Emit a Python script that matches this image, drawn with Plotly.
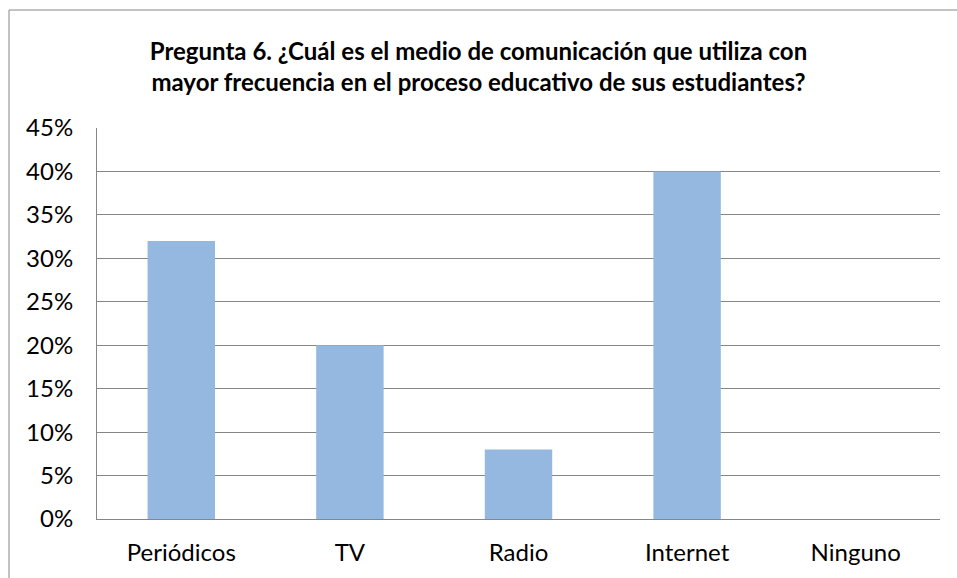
import plotly.graph_objects as go

categories = ["Periódicos", "TV", "Radio", "Internet", "Ninguno"]
values = [0.32, 0.20, 0.08, 0.40, 0.0]
tick_vals = [0, 0.05, 0.10, 0.15, 0.20, 0.25, 0.30, 0.35, 0.40, 0.45]
tick_text = ["0%", "5%", "10%", "15%", "20%", "25%", "30%", "35%", "40%", "45%"]
title_text = ("Pregunta 6. ¿Cuál es el medio de comunicación que utiliza con<br>"
              "mayor frecuencia en el proceso educativo de sus estudiantes?")

FONT = "Lato"
W, H = 957, 578
L, R, T, B = 97, 17, 128, 59
PW, PH = W - L - R, H - T - B

fig = go.Figure(go.Bar(x=categories, y=values, marker=dict(color="#95B8E0", line=dict(width=0))))

fig.update_layout(
    width=W, height=H,
    margin=dict(l=L, r=R, t=T, b=B),
    paper_bgcolor="white", plot_bgcolor="white",
    bargap=0.6,
    showlegend=False,
    font=dict(family=FONT, size=24, color="#000000"),
    title=dict(text="<b>" + title_text + "</b>", x=0.5, xanchor="center",
               y=1 - 60 / H, yanchor="middle",
               font=dict(family=FONT, size=24, color="#000000")),
    xaxis=dict(showline=True, linecolor="#868686", linewidth=1, ticks="",
               tickfont=dict(family=FONT, size=24), showgrid=False,
               ticklabelstandoff=12),
    yaxis=dict(range=[0, 0.45], tickvals=tick_vals, ticktext=tick_text,
               showgrid=True, gridcolor="#868686", gridwidth=1,
               showline=True, linecolor="#868686", linewidth=1,
               ticks="", ticklen=0, tickfont=dict(family=FONT, size=24),
               zeroline=False, ticklabelstandoff=18),
    shapes=[dict(type="rect", xref="paper", yref="paper",
                 x0=(9 - L) / PW, x1=(W + 20 - L) / PW,
                 y0=-(B + 20) / PH, y1=(H - 10 - B) / PH,
                 line=dict(color="#868686", width=1), fillcolor="rgba(0,0,0,0)")],
)

fig.write_html("out.html", config={"displayModeBar": False},
               post_script="document.body.style.margin='0';document.body.style.overflow='hidden';")
